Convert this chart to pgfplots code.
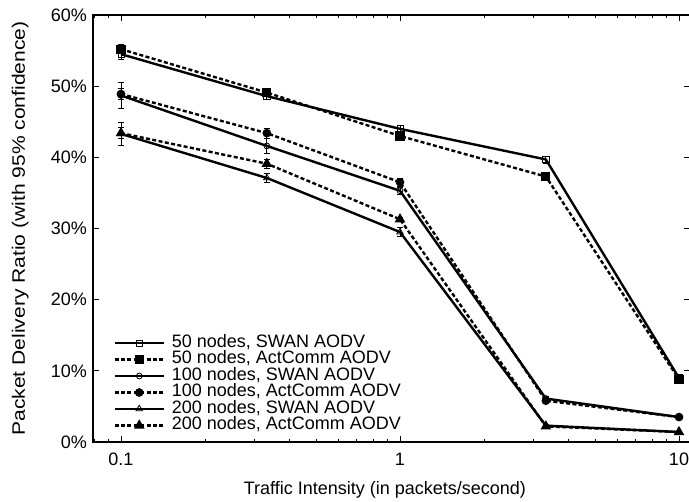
\documentclass[border=0pt]{standalone}
\usepackage{fontspec}
\setmainfont{Liberation Sans}
\usepackage{pgfplots}
\pgfplotsset{compat=1.18}

\begin{document}
\begin{tikzpicture}
  \begin{axis}[
      name=ax,
      scale only axis,
      width=447.75pt,
      height=320.25pt,
      xmode=log,
      xmin=0.0794, xmax=10.95,
      ymin=0, ymax=60,
      xtick={0.1,1,10},
      xticklabels={0.1,1,10},
      minor xtick={0.08,0.09,0.2,0.3,0.4,0.5,0.6,0.7,0.8,0.9,2,3,4,5,6,7,8,9},
      ytick={0,10,20,30,40,50,60},
      yticklabel={\pgfmathprintnumber{\tick}\%},
      /pgf/number format/assume math mode=true,
      xticklabel style={yshift=-5pt},
      yticklabel style={xshift=-1pt},
      tick align=inside,
      major tick length=4.5pt,
      minor tick length=2.5pt,
      tick style={line width=0.6pt, black},
      axis line style={line width=1.2pt},
      font=\fontsize{13.5}{15}\selectfont,
      xlabel={Traffic Intensity (in packets/second)},
      ylabel={\scalebox{1.17}[1]{Packet Delivery Ratio (with 95\% confidence)}},
      xlabel style={at={(axis description cs:0.489,-0.112)}, anchor=center},
      ylabel style={at={(axis description cs:-0.122,0.5)}, anchor=center},
      legend cell align=left,
      legend style={
        at={(axis description cs:0.027,0.012)}, anchor=south west,
        draw=none, fill=none,
        font=\fontsize{13.5}{15}\selectfont,
        nodes={inner sep=0pt, text height=9.5pt, text depth=3.25pt},
        column sep=5pt,
        row sep=-0.4pt,
      },
      legend image code/.code={
        \draw[mark repeat=2, mark phase=2, #1]
          plot coordinates {(0pt,0pt) (18.5pt,0pt) (37pt,0pt)};
      },
      every axis plot/.append style={line width=1.8pt, black},
      error bars/y dir=both,
      error bars/y explicit,
      error bars/error bar style={line width=0.6pt, solid},
      error bars/error mark options={rotate=90, mark size=2.4pt, line width=0.6pt, solid},
    ]

    % 50 nodes, SWAN AODV
    \addplot[solid, mark=square, mark size=2.3pt, mark options={solid, line width=0.6pt, fill=white}]
      coordinates {(0.1,54.5) +- (0,0.8) (0.3333,48.6) +- (0,0.5) (1,44.0) +- (0,0.5) (3.333,39.7) +- (0,0.5) (10,9.0) +- (0,0.3)};
    \addlegendentry{50 nodes, SWAN AODV}

    % 50 nodes, ActComm AODV
    \addplot[dash pattern=on 3pt off 1.8pt, mark=square*, mark size=2.5pt, mark options={solid}]
      coordinates {(0.1,55.2) +- (0,0.6) (0.3333,49.1) +- (0,0.4) (1,43.0) +- (0,0.6) (3.333,37.3) +- (0,0.5) (10,8.8) +- (0,0.3)};
    \addlegendentry{50 nodes, ActComm AODV}

    % 100 nodes, SWAN AODV
    \addplot[solid, mark=o, mark size=2.2pt, mark options={solid, line width=0.6pt, fill=white}]
      coordinates {(0.1,48.7) +- (0,1.8) (0.3333,41.6) +- (0,1.0) (1,35.3) +- (0,0.5) (3.333,6.1) +- (0,0.3) (10,3.5) +- (0,0.2)};
    \addlegendentry{100 nodes, SWAN AODV}

    % 100 nodes, ActComm AODV
    \addplot[dash pattern=on 3pt off 1.8pt, mark=*, mark size=2.3pt, mark options={solid}]
      coordinates {(0.1,48.9) +- (0,0.8) (0.3333,43.4) +- (0,0.7) (1,36.5) +- (0,0.6) (3.333,5.8) +- (0,0.3) (10,3.5) +- (0,0.2)};
    \addlegendentry{100 nodes, ActComm AODV}

    % 200 nodes, SWAN AODV
    \addplot[solid, mark=triangle, mark size=2.8pt, mark options={solid, line width=0.6pt, fill=white}]
      coordinates {(0.1,43.3) +- (0,1.6) (0.3333,37.1) +- (0,0.6) (1,29.5) +- (0,0.6) (3.333,2.3) +- (0,0.2) (10,1.4) +- (0,0.1)};
    \addlegendentry{200 nodes, SWAN AODV}

    % 200 nodes, ActComm AODV
    \addplot[dash pattern=on 3pt off 1.8pt, mark=triangle*, mark size=2.8pt, mark options={solid}]
      coordinates {(0.1,43.4) +- (0,0.8) (0.3333,39.1) +- (0,0.6) (1,31.3) +- (0,0.3) (3.333,2.2) +- (0,0.2) (10,1.4) +- (0,0.1)};
    \addlegendentry{200 nodes, ActComm AODV}

  \end{axis}
  \pgfresetboundingbox
  \path[use as bounding box] ([shift={(-69.75pt,-45pt)}]ax.south west) rectangle ([shift={(-0.75pt,11.25pt)}]ax.north east);
\end{tikzpicture}
\end{document}
